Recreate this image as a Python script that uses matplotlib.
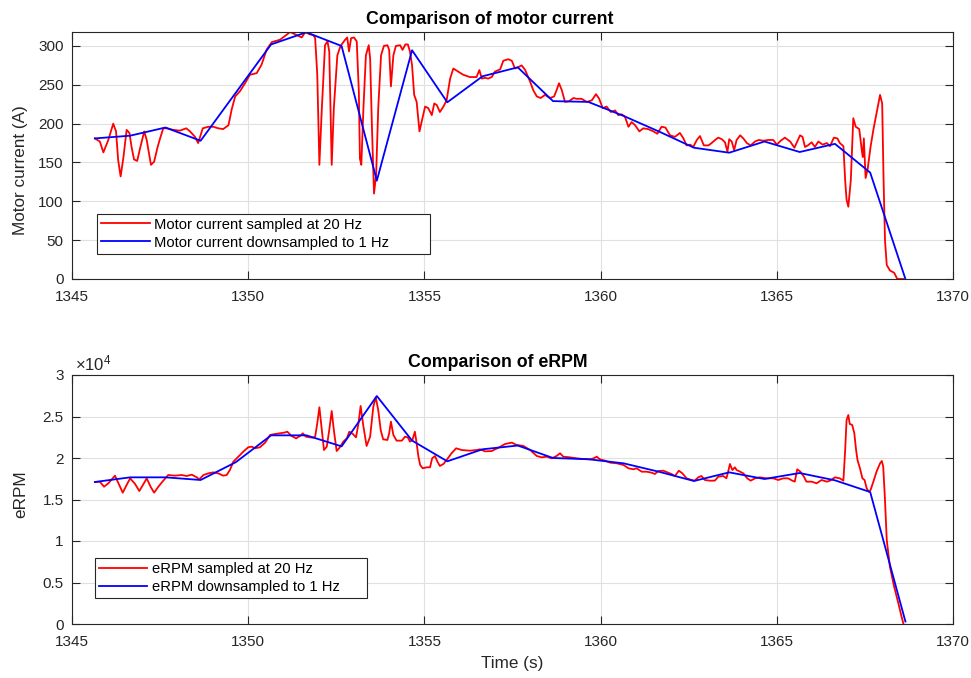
import matplotlib
matplotlib.use("Agg")
import matplotlib.pyplot as plt
from matplotlib.ticker import FuncFormatter

# ---------------- data ----------------
t_1hz = [1345.65, 1346.65, 1347.65, 1348.65, 1349.65, 1350.65, 1351.65, 1352.65,
         1353.65, 1354.65, 1355.65, 1356.65, 1357.65, 1358.65, 1359.65, 1360.65,
         1361.65, 1362.65, 1363.65, 1364.65, 1365.65, 1366.65, 1367.65, 1368.65]
current_1hz = [181, 184.5, 195, 178, 240, 302, 317.6, 300, 126.6, 294.5, 227.5, 261,
               272.5, 229, 228, 210, 190, 169, 162.6, 177, 163.5, 174, 137, 0]
erpm_1hz_e4 = [1.711, 1.767, 1.767, 1.735, 1.95, 2.273, 2.273, 2.14, 2.747, 2.21,
               1.96, 2.105, 2.15, 2.0, 1.985, 1.936, 1.835, 1.723, 1.827, 1.747,
               1.819, 1.731, 1.59, 0.03]

t_cur_20hz = [1345.65, 1345.79, 1345.89, 1346.03, 1346.17, 1346.25, 1346.31, 1346.38, 1346.46, 1346.55,
              1346.63, 1346.69, 1346.76, 1346.85, 1346.93, 1347.05, 1347.12, 1347.24, 1347.33, 1347.43,
              1347.50, 1347.59, 1347.70, 1347.87, 1348.06, 1348.24, 1348.35, 1348.49, 1348.58, 1348.71,
              1348.87, 1349.01, 1349.15, 1349.29, 1349.44, 1349.53, 1349.63, 1349.77, 1349.91, 1350.05,
              1350.24, 1350.38, 1350.52, 1350.67, 1350.90, 1351.02, 1351.19, 1351.38, 1351.52, 1351.62,
              1351.75, 1351.85, 1351.90, 1351.96, 1352.02, 1352.09, 1352.18, 1352.25, 1352.30, 1352.37,
              1352.43, 1352.53, 1352.62, 1352.75, 1352.81, 1352.86, 1352.92, 1353.00, 1353.08, 1353.14,
              1353.17, 1353.21, 1353.27, 1353.34, 1353.42, 1353.46, 1353.51, 1353.57, 1353.63, 1353.69,
              1353.77, 1353.85, 1353.95, 1354.00, 1354.05, 1354.12, 1354.19, 1354.31, 1354.38, 1354.46,
              1354.53, 1354.59, 1354.65, 1354.71, 1354.78, 1354.86, 1354.92, 1355.02, 1355.11, 1355.21,
              1355.28, 1355.35, 1355.44, 1355.54, 1355.63, 1355.73, 1355.82, 1355.96, 1356.10, 1356.29,
              1356.48, 1356.56, 1356.63, 1356.72, 1356.81, 1356.91, 1357.00, 1357.15, 1357.24, 1357.38,
              1357.48, 1357.57, 1357.67, 1357.76, 1357.86, 1358.00, 1358.09, 1358.19, 1358.30, 1358.42,
              1358.56, 1358.68, 1358.75, 1358.82, 1358.90, 1358.99, 1359.11, 1359.23, 1359.32, 1359.46,
              1359.61, 1359.75, 1359.87, 1359.96, 1360.06, 1360.17, 1360.29, 1360.41, 1360.50, 1360.60,
              1360.69, 1360.79, 1360.88, 1360.98, 1361.10, 1361.21, 1361.35, 1361.50, 1361.61, 1361.73,
              1361.84, 1361.97, 1362.11, 1362.25, 1362.35, 1362.44, 1362.54, 1362.63, 1362.73, 1362.82,
              1362.93, 1363.06, 1363.15, 1363.25, 1363.34, 1363.44, 1363.53, 1363.60, 1363.65, 1363.72,
              1363.79, 1363.86, 1363.96, 1364.05, 1364.15, 1364.26, 1364.38, 1364.49, 1364.62, 1364.76,
              1364.90, 1365.00, 1365.11, 1365.23, 1365.38, 1365.50, 1365.58, 1365.66, 1365.73, 1365.80,
              1365.88, 1365.99, 1366.08, 1366.18, 1366.30, 1366.42, 1366.51, 1366.62, 1366.72, 1366.79,
              1366.89, 1366.94, 1366.98, 1367.03, 1367.10, 1367.17, 1367.24, 1367.34, 1367.41, 1367.44,
              1367.47, 1367.52, 1367.58, 1367.66, 1367.74, 1367.83, 1367.93, 1367.99, 1368.03, 1368.07,
              1368.12, 1368.21, 1368.33, 1368.42, 1368.59]
current_20hz = [181, 177, 163, 179, 200, 190, 153, 132, 157, 192,
                188, 170, 154, 152, 168, 190, 179, 147, 151, 170,
                181, 194, 194, 192, 191, 194, 190, 183, 175, 194,
                196, 196, 194, 193, 198, 218, 235, 242, 252, 263,
                265, 276, 295, 305, 308, 312, 318, 314, 311, 318,
                315, 314, 310, 263, 147, 220, 301, 306, 293, 147,
                220, 288, 300, 308, 311, 293, 310, 311, 306, 241,
                155, 147, 220, 288, 301, 284, 198, 110, 134, 220,
                288, 300, 301, 295, 248, 288, 300, 301, 295, 302,
                302, 293, 275, 237, 228, 190, 202, 222, 220, 211,
                226, 224, 215, 222, 230, 258, 271, 267, 263, 260,
                260, 269, 258, 259, 258, 260, 267, 270, 281, 283,
                281, 271, 273, 275, 269, 254, 243, 235, 233, 237,
                233, 235, 243, 252, 243, 228, 229, 233, 232, 232,
                228, 230, 238, 232, 220, 222, 215, 217, 211, 212,
                209, 196, 202, 198, 190, 194, 193, 190, 187, 196,
                195, 185, 183, 188, 181, 172, 173, 170, 179, 184,
                172, 172, 175, 179, 182, 180, 176, 164, 180, 177,
                166, 179, 185, 181, 175, 172, 177, 179, 178, 179,
                179, 173, 178, 182, 177, 169, 177, 185, 183, 170,
                172, 176, 170, 177, 173, 175, 171, 182, 181, 175,
                171, 127, 102, 93, 127, 207, 196, 193, 166, 157,
                181, 130, 142, 170, 192, 213, 237, 226, 127, 50,
                18, 11, 8, 0, 0]

t_erpm_20hz = [1345.65, 1345.79, 1345.91, 1346.03, 1346.22, 1346.31, 1346.44, 1346.55, 1346.65, 1346.79,
               1346.91, 1347.04, 1347.12, 1347.23, 1347.33, 1347.45, 1347.59, 1347.73, 1347.92, 1348.11,
               1348.25, 1348.40, 1348.54, 1348.61, 1348.73, 1348.87, 1349.01, 1349.15, 1349.29, 1349.39,
               1349.48, 1349.58, 1349.72, 1349.86, 1350.00, 1350.10, 1350.19, 1350.33, 1350.48, 1350.62,
               1350.76, 1350.90, 1351.02, 1351.11, 1351.23, 1351.36, 1351.47, 1351.55, 1351.64, 1351.75,
               1351.85, 1351.90, 1351.96, 1352.02, 1352.09, 1352.15, 1352.23, 1352.30, 1352.37, 1352.43,
               1352.51, 1352.58, 1352.70, 1352.80, 1352.87, 1352.97, 1353.06, 1353.13, 1353.19, 1353.27,
               1353.36, 1353.46, 1353.55, 1353.62, 1353.69, 1353.76, 1353.83, 1353.95, 1354.00, 1354.05,
               1354.12, 1354.21, 1354.36, 1354.45, 1354.53, 1354.59, 1354.66, 1354.73, 1354.78, 1354.83,
               1354.88, 1354.95, 1355.07, 1355.16, 1355.22, 1355.30, 1355.37, 1355.44, 1355.54, 1355.63,
               1355.77, 1355.90, 1356.06, 1356.29, 1356.48, 1356.58, 1356.72, 1356.91, 1357.10, 1357.29,
               1357.48, 1357.62, 1357.81, 1358.00, 1358.19, 1358.33, 1358.47, 1358.61, 1358.75, 1358.85,
               1358.94, 1359.13, 1359.32, 1359.51, 1359.70, 1359.80, 1359.89, 1359.98, 1360.13, 1360.27,
               1360.46, 1360.65, 1360.79, 1360.93, 1361.02, 1361.17, 1361.31, 1361.45, 1361.54, 1361.64,
               1361.78, 1361.92, 1362.01, 1362.11, 1362.22, 1362.32, 1362.44, 1362.58, 1362.67, 1362.77,
               1362.86, 1362.96, 1363.10, 1363.24, 1363.34, 1363.48, 1363.57, 1363.62, 1363.67, 1363.74,
               1363.81, 1363.86, 1363.96, 1364.05, 1364.16, 1364.26, 1364.38, 1364.52, 1364.71, 1364.90,
               1365.04, 1365.18, 1365.32, 1365.44, 1365.51, 1365.58, 1365.67, 1365.77, 1365.84, 1365.99,
               1366.13, 1366.27, 1366.42, 1366.51, 1366.65, 1366.79, 1366.89, 1366.94, 1366.98, 1367.03,
               1367.07, 1367.14, 1367.20, 1367.25, 1367.29, 1367.36, 1367.43, 1367.49, 1367.55, 1367.61,
               1367.66, 1367.74, 1367.83, 1367.93, 1367.98, 1368.02, 1368.07, 1368.12, 1368.21, 1368.33,
               1368.45, 1368.54, 1368.59]
erpm_20hz_e4 = [1.711, 1.714, 1.654, 1.695, 1.787, 1.703, 1.582, 1.675, 1.755, 1.687,
                1.602, 1.695, 1.755, 1.654, 1.582, 1.654, 1.727, 1.795, 1.787, 1.795,
                1.783, 1.799, 1.767, 1.743, 1.795, 1.815, 1.827, 1.815, 1.787, 1.795,
                1.855, 1.956, 2.016, 2.076, 2.129, 2.137, 2.117, 2.129, 2.185, 2.277,
                2.289, 2.297, 2.305, 2.317, 2.265, 2.237, 2.265, 2.297, 2.257, 2.249,
                2.245, 2.257, 2.418, 2.611, 2.337, 2.096, 2.137, 2.337, 2.566, 2.337,
                2.084, 2.117, 2.197, 2.237, 2.317, 2.289, 2.249, 2.418, 2.627, 2.378,
                2.145, 2.257, 2.618, 2.731, 2.578, 2.337, 2.225, 2.217, 2.297, 2.438,
                2.277, 2.209, 2.209, 2.257, 2.249, 2.197, 2.217, 2.317, 2.177, 2.016,
                1.916, 1.876, 1.888, 1.888, 1.996, 2.024, 1.956, 1.904, 1.928, 1.976,
                2.057, 2.117, 2.096, 2.088, 2.096, 2.105, 2.080, 2.084, 2.124, 2.169,
                2.185, 2.157, 2.145, 2.096, 2.024, 2.008, 2.016, 1.996, 2.024, 2.057,
                2.016, 2.008, 1.996, 1.988, 1.984, 1.996, 2.016, 1.984, 1.968, 1.944,
                1.936, 1.916, 1.876, 1.864, 1.876, 1.835, 1.835, 1.823, 1.807, 1.843,
                1.847, 1.823, 1.807, 1.783, 1.847, 1.815, 1.755, 1.735, 1.727, 1.767,
                1.783, 1.735, 1.727, 1.727, 1.775, 1.783, 1.755, 1.835, 1.928, 1.855,
                1.888, 1.855, 1.835, 1.815, 1.755, 1.727, 1.755, 1.767, 1.755, 1.755,
                1.735, 1.755, 1.755, 1.727, 1.715, 1.864, 1.835, 1.775, 1.715, 1.715,
                1.695, 1.735, 1.715, 1.727, 1.767, 1.755, 1.727, 2.096, 2.458, 2.518,
                2.410, 2.398, 2.297, 2.096, 1.976, 1.876, 1.755, 1.735, 1.635, 1.594,
                1.614, 1.715, 1.835, 1.936, 1.964, 1.896, 1.494, 1.012, 0.690, 0.449,
                0.249, 0.088, 0.008]

x_ticks = [1345, 1350, 1355, 1360, 1365, 1370]
current_ticks = [0, 50, 100, 150, 200, 250, 300]
erpm_ticks_e4 = [0, 0.5, 1, 1.5, 2, 2.5, 3]

# ---------------- style ----------------
plt.rcParams['font.family'] = ['Liberation Sans', 'DejaVu Sans']
plt.rcParams['mathtext.fontset'] = 'custom'
plt.rcParams['mathtext.rm'] = 'Liberation Sans'
plt.rcParams['mathtext.it'] = 'Liberation Sans:italic'
AX_COL = (0.15, 0.15, 0.15)
GRID_COL = (0.88, 0.88, 0.88)

fig = plt.figure(figsize=(9.71, 6.78), dpi=100)
L, R = 72 / 971, 953 / 971
ax1 = fig.add_axes([L, 1 - 279 / 678, R - L, (279 - 32) / 678])
ax2 = fig.add_axes([L, 1 - 624 / 678, R - L, (624 - 375) / 678])


def style(ax):
    ax.set_xlim(1345, 1370)
    ax.set_xticks(x_ticks)
    ax.grid(True, color=GRID_COL, linewidth=0.8)
    ax.set_axisbelow(True)
    for s in ax.spines.values():
        s.set_color(AX_COL)
        s.set_linewidth(0.8)
    ax.tick_params(direction='in', length=6, width=0.8, colors=AX_COL,
                   labelsize=11, top=True, right=True, labelcolor=AX_COL)
    ax.tick_params(axis='x', pad=8)
    ax.tick_params(axis='y', pad=6)


def legend(ax, x0, y0, w):
    leg = ax.legend(loc='lower left', bbox_to_anchor=(x0, y0, w, 0.05), mode='expand',
                    borderaxespad=0, fancybox=False, edgecolor=AX_COL, framealpha=1,
                    fontsize=10.6, handlelength=3.3, borderpad=0.27, labelspacing=0.27,
                    handletextpad=0.3)
    leg.get_frame().set_linewidth(0.8)
    return leg


# top
ax1.plot(t_cur_20hz, current_20hz, color='red', lw=1.3, label='Motor current sampled at 20 Hz')
ax1.plot(t_1hz, current_1hz, color='blue', lw=1.3, label='Motor current downsampled to 1 Hz')
style(ax1)
ax1.set_ylim(0, 318)
ax1.set_yticks(current_ticks)
ax1.set_ylabel('Motor current (A)', fontsize=12.3, color=AX_COL)
ax1.yaxis.set_label_coords(-0.05, 0.44)
ax1.set_title('Comparison of motor current', fontsize=12.8, fontweight='bold', pad=6, x=0.474)
legend(ax1, 0.0284, 0.103, 0.378)

# bottom
ax2.plot(t_erpm_20hz, erpm_20hz_e4, color='red', lw=1.3, label='eRPM sampled at 20 Hz')
ax2.plot(t_1hz, erpm_1hz_e4, color='blue', lw=1.3, label='eRPM downsampled to 1 Hz')
style(ax2)
ax2.set_ylim(0, 3)
ax2.set_yticks(erpm_ticks_e4)
ax2.yaxis.set_major_formatter(FuncFormatter(lambda v, p: f'{v:g}'))
ax2.set_ylabel('eRPM', fontsize=12.3, color=AX_COL)
ax2.yaxis.set_label_coords(-0.05, 0.52)
ax2.set_xlabel('Time (s)', fontsize=12.3, color=AX_COL, labelpad=5)
ax2.set_title('Comparison of eRPM', fontsize=12.8, fontweight='bold', pad=6, x=0.483)
ax2.text(0.003, 1.006, r'$\times10^{4}$', transform=ax2.transAxes, ha='left', va='bottom',
         fontsize=12, color=AX_COL)
legend(ax2, 0.026, 0.103, 0.309)

fig.savefig('out.png', dpi=100)
